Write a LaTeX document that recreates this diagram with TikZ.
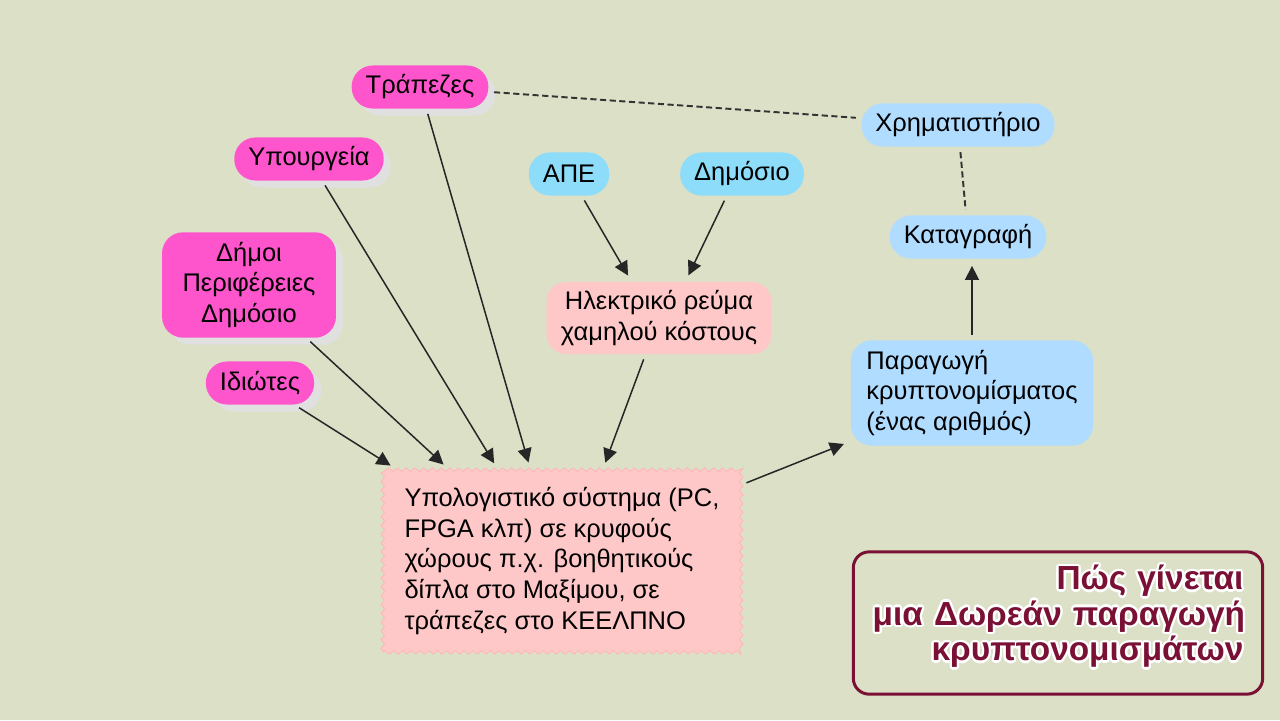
\documentclass[tikz,border=0pt]{standalone}
\usepackage{fontspec}
\setmainfont{Liberation Sans}
\usepackage{contour}
\contourlength{1.3pt}
\contournumber{16}
\usetikzlibrary{arrows.meta,decorations.pathmorphing,shadows}
\definecolor{bgolive}{RGB}{220,224,199}
\definecolor{hotpink}{RGB}{255,85,204}
\definecolor{softpink}{RGB}{255,200,200}
\definecolor{skyblue}{RGB}{140,220,250}
\definecolor{paleblue}{RGB}{176,220,255}
\definecolor{maroon}{RGB}{122,17,52}
\begin{document}
\begin{tikzpicture}[x=0.02cm,y=-0.02cm,>={Triangle[length=8pt,width=8pt]},
 font=\fontsize{14.5}{17.6}\selectfont,
 pill/.style={rounded corners=12pt,minimum height=24.5pt,inner xsep=8pt,inner ysep=2pt},
 actor/.style={pill,fill=hotpink,drop shadow={shadow xshift=4pt,shadow yshift=-4pt,fill=black!12,opacity=1}},
 source/.style={pill,fill=skyblue},
 result/.style={pill,fill=paleblue},
 costbox/.style={fill=softpink,rounded corners=11pt,minimum width=128pt,minimum height=41pt,align=center},
 pcbox/.style={fill=softpink,draw=softpink!90!red,decorate,decoration={zigzag,segment length=5pt,amplitude=1pt},minimum width=204pt,minimum height=104pt,align=left},
 titlebox/.style={draw=maroon,line width=1.7pt,rounded corners=9pt,minimum width=233pt,minimum height=81pt,text width=211pt,inner xsep=11pt,align=right,text=maroon,font=\fontsize{19}{18.2}\selectfont\bfseries},
 link/.style={draw=black!85,line width=0.85pt,->,shorten >=4pt,shorten <=3pt},
 tie/.style={draw=black!80,line width=1.1pt,dash pattern=on 3.5pt off 2pt,shorten >=3pt,shorten <=3pt}]
\useasboundingbox (0,0) rectangle (1280,720);
\fill[bgolive] (0,0) rectangle (1280,720);
% who pays for it
\node[actor] (trap) at (420,87) {Τράπεζες};
\node[actor] (ypo) at (309,159) {Υπουργεία};
\node[actor,minimum width=99pt,minimum height=60pt,align=center] (dimoi) at (249,285) {Δήμοι\\Περιφέρειες\\Δημόσιο};
\node[actor] (idi) at (260,383) {Ιδιώτες};
% power
\node[source] (ape) at (569,174) {ΑΠΕ};
\node[source] (dim) at (742,174) {Δημόσιο};
\node[costbox] (elec) at (659,318) {Ηλεκτρικό ρεύμα\\χαμηλού κόστους};
\node[pcbox] (pc) at (562,561) {Υπολογιστικό σύστημα (PC,\\FPGA κλπ) σε κρυφούς\\χώρους π.χ. βοηθητικούς\\δίπλα στο Μαξίμου, σε\\τράπεζες στο ΚΕΕΛΠΝΟ};
% output
\node[result,minimum width=138pt,minimum height=60pt,align=left] (coin) at (972,393) {Παραγωγή\\κρυπτονομίσματος\\(ένας αριθμός)};
\node[result] (kat) at (968,237) {Καταγραφή};
\node[result] (xrim) at (958,125) {Χρηματιστήριο};
\node[titlebox] (title) at (1058,623) {\contour{white}{Πώς γίνεται}\\\contour{white}{μια Δωρεάν παραγωγή}\\\contour{white}{κρυπτονομισμάτων}\\[-6.8pt]\mbox{}};
\draw[link] (idi)--(pc.151);
\draw[link] (dimoi)--(pc.141);
\draw[link] (ypo)--(pc.125);
\draw[link] (trap)--(pc.109);
\draw[link] (elec)--(pc.66);
\draw[link] (ape)--(elec.127);
\draw[link] (dim.235)--(elec.54);
\draw[link] (pc.23)--(coin);
\draw[link] (coin.north)--(coin.north |- kat.south);
\draw[tie] (trap)--(xrim);
\draw[tie] (xrim)--(kat);
\end{tikzpicture}
\end{document}
